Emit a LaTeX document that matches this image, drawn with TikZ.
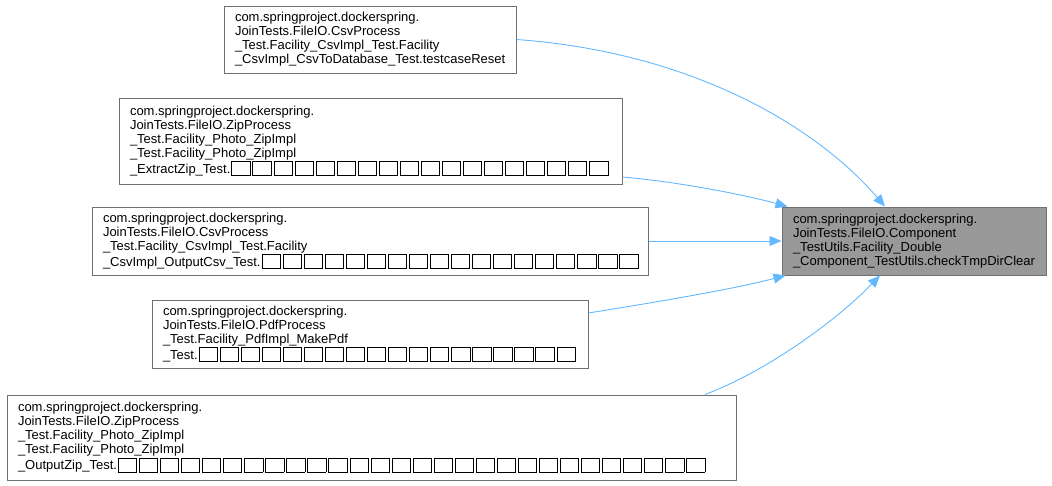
\documentclass[tikz,border=0pt]{standalone}
\usepackage{fontspec}
\setmainfont{Liberation Sans}
\usetikzlibrary{arrows.meta}
\definecolor{edgeblue}{HTML}{63B8FF}
\definecolor{nodeborder}{HTML}{707070}
\definecolor{targetfill}{HTML}{999999}
\newcommand\tofu{\kern1pt\raisebox{-2pt}{\setlength\fboxsep{0pt}\setlength\fboxrule{0.8pt}\fbox{\makebox[17.45pt]{\rule{0pt}{13.4pt}}}}\kern1pt}
\newcommand\tofus[1]{\foreach \i in {1,...,#1}{\tofu}}
\begin{document}
\begin{tikzpicture}[x=1pt,y=-1pt,
  box/.style={draw=nodeborder, line width=1pt, fill=white, inner xsep=11pt, inner ysep=0pt,
    align=left, font=\fontsize{13}{14}\selectfont, anchor=center},
  target/.style={box, fill=targetfill},
  edge/.style={draw=edgeblue, line width=0.9pt, -{Triangle[length=12pt,width=10pt]}}]
\useasboundingbox (0,0) rectangle (1052,485);

\node[box, text width=270pt, minimum height=67pt] (a) at (370,39.5)
 {com.springproject.dockerspring.\\JoinTests.FileIO.CsvProcess\\\_Test.Facility\_CsvImpl\_Test.Facility\\\_CsvImpl\_CsvToDatabase\_Test.testcaseReset};
\node[box, text width=481pt, minimum height=86pt] (b) at (370.5,141)
 {com.springproject.dockerspring.\\JoinTests.FileIO.ZipProcess\\\_Test.Facility\_Photo\_ZipImpl\\\_Test.Facility\_Photo\_ZipImpl\\\_ExtractZip\_Test.\tofus{18}};
\node[box, text width=534pt, minimum height=68pt] (c) at (370,241)
 {com.springproject.dockerspring.\\JoinTests.FileIO.CsvProcess\\\_Test.Facility\_CsvImpl\_Test.Facility\\\_CsvImpl\_OutputCsv\_Test.\tofus{18}};
\node[box, text width=414pt, minimum height=68pt] (d) at (370,334)
 {com.springproject.dockerspring.\\JoinTests.FileIO.PdfProcess\\\_Test.Facility\_PdfImpl\_MakePdf\\\_Test.\tofus{18}};
\node[box, text width=707pt, minimum height=85pt] (e) at (371.5,437.5)
 {com.springproject.dockerspring.\\JoinTests.FileIO.ZipProcess\\\_Test.Facility\_Photo\_ZipImpl\\\_Test.Facility\_Photo\_ZipImpl\\\_OutputZip\_Test.\tofus{28}};
\node[target, text width=242pt, minimum height=68pt] (t) at (914,241)
 {com.springproject.dockerspring.\\JoinTests.FileIO.Component\\\_TestUtils.Facility\_Double\\\_Component\_TestUtils.checkTmpDirClear};

\draw[edge] (a.east) .. controls (690,52) and (815,125) .. ([xshift=-29pt]t.north);
\draw[edge] ([yshift=-36pt]b.east) .. controls (680,182) and (745,195) .. ([xshift=6pt]t.north west);
\draw[edge] (c.east) -- (t.west);
\draw[edge] ([yshift=21pt]d.east) .. controls (650,303) and (730,290) .. ([xshift=4pt]t.south west);
\draw[edge] ([xshift=333.5pt]e.north) .. controls (765,372) and (835,322) .. ([xshift=-34pt]t.south);
\end{tikzpicture}
\end{document}
